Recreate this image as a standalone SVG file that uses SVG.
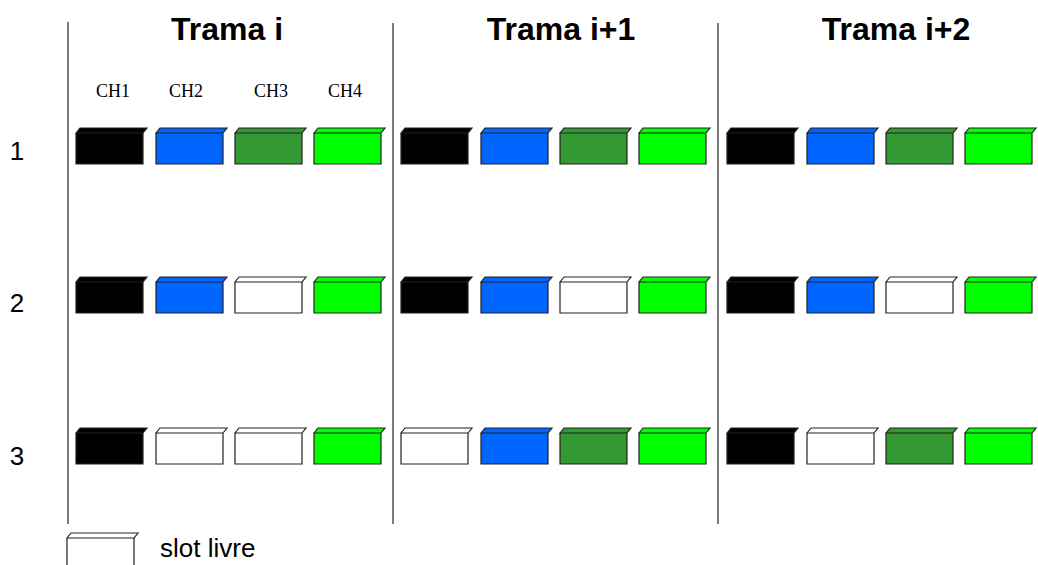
<svg xmlns="http://www.w3.org/2000/svg" xmlns:xlink="http://www.w3.org/1999/xlink" width="1038" height="565" viewBox="0 0 1038 565">
<style>
.title{font-family:"Liberation Sans",Arial,sans-serif;font-weight:bold;font-size:32px;text-anchor:middle;fill:#000}
.row{font-family:"Liberation Sans",Arial,sans-serif;font-size:26px;text-anchor:middle;fill:#000}
.ch{font-family:"Liberation Serif","Times New Roman",serif;font-size:18px;text-anchor:middle;fill:#000}
.leg{font-family:"Liberation Sans",Arial,sans-serif;font-size:26px;fill:#000}
.sep{stroke:#333;stroke-width:1.3;fill:none}
.box{stroke:#222;stroke-width:1.2;stroke-linejoin:miter}
.k{fill:#000}
.b{fill:#0066ff}
.d{fill:#339933}
.g{fill:#00ff00}
.w{fill:#fff}
</style>
<defs>
<path id="slot" d="M0,0 H67 V31 H0 Z M0,0 L4,-5 H71 L67,0 Z"/>
<path id="slotLegend" d="M0,0 H67 V40 M0,40 V0 M0,0 L4,-5 H71 L67,0 Z"/>
</defs>
<g id="separators">
<line class="sep" x1="68" y1="22" x2="68" y2="524"/>
<line class="sep" x1="393" y1="23" x2="393" y2="524"/>
<line class="sep" x1="718" y1="23" x2="718" y2="524"/>
</g>
<g id="titles">
<text class="title" x="227" y="40">Trama i</text>
<text class="title" x="561" y="40">Trama i+1</text>
<text class="title" x="896" y="40">Trama i+2</text>
</g>
<g id="channels">
<text class="ch" x="113" y="97">CH1</text>
<text class="ch" x="186" y="97">CH2</text>
<text class="ch" x="271" y="97">CH3</text>
<text class="ch" x="345" y="97">CH4</text>
</g>
<g id="rows">
<text class="row" x="17" y="160">1</text>
<text class="row" x="17" y="312">2</text>
<text class="row" x="17" y="465">3</text>
</g>
<g id="row1">
<use href="#slot" class="box k" x="76" y="133"/>
<use href="#slot" class="box b" x="156" y="133"/>
<use href="#slot" class="box d" x="235" y="133"/>
<use href="#slot" class="box g" x="314" y="133"/>
<use href="#slot" class="box k" x="401" y="133"/>
<use href="#slot" class="box b" x="481" y="133"/>
<use href="#slot" class="box d" x="560" y="133"/>
<use href="#slot" class="box g" x="639" y="133"/>
<use href="#slot" class="box k" x="727" y="133"/>
<use href="#slot" class="box b" x="807" y="133"/>
<use href="#slot" class="box d" x="886" y="133"/>
<use href="#slot" class="box g" x="965" y="133"/>
</g>
<g id="row2">
<use href="#slot" class="box k" x="76" y="282"/>
<use href="#slot" class="box b" x="156" y="282"/>
<use href="#slot" class="box w" x="235" y="282"/>
<use href="#slot" class="box g" x="314" y="282"/>
<use href="#slot" class="box k" x="401" y="282"/>
<use href="#slot" class="box b" x="481" y="282"/>
<use href="#slot" class="box w" x="560" y="282"/>
<use href="#slot" class="box g" x="639" y="282"/>
<use href="#slot" class="box k" x="727" y="282"/>
<use href="#slot" class="box b" x="807" y="282"/>
<use href="#slot" class="box w" x="886" y="282"/>
<use href="#slot" class="box g" x="965" y="282"/>
</g>
<g id="row3">
<use href="#slot" class="box k" x="76" y="433"/>
<use href="#slot" class="box w" x="156" y="433"/>
<use href="#slot" class="box w" x="235" y="433"/>
<use href="#slot" class="box g" x="314" y="433"/>
<use href="#slot" class="box w" x="401" y="433"/>
<use href="#slot" class="box b" x="481" y="433"/>
<use href="#slot" class="box d" x="560" y="433"/>
<use href="#slot" class="box g" x="639" y="433"/>
<use href="#slot" class="box k" x="727" y="433"/>
<use href="#slot" class="box w" x="807" y="433"/>
<use href="#slot" class="box d" x="886" y="433"/>
<use href="#slot" class="box g" x="965" y="433"/>
</g>
<g id="legend">
<use href="#slotLegend" class="box w" x="67" y="538"/>
<text class="leg" x="160" y="557">slot livre</text>
</g>
</svg>
